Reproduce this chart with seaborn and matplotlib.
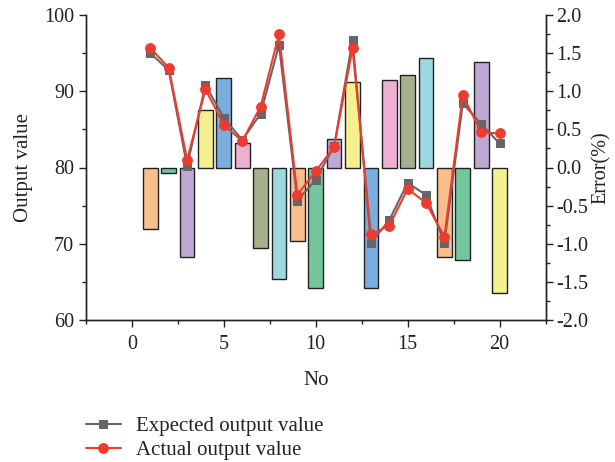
import numpy as np
import pandas as pd
import matplotlib
matplotlib.use("Agg")
import matplotlib.pyplot as plt
import seaborn as sns
from matplotlib.ticker import MultipleLocator

sns.set_theme(style="white")
plt.rcParams['font.family'] = ['Liberation Serif', 'DejaVu Serif']
plt.rcParams['mathtext.fontset'] = 'stix'

no = list(range(1, 21))
expected = [95.0, 92.76, 80.2, 90.83, 86.5, 83.6, 87.06, 96.05, 75.66, 78.4,
            82.8, 96.67, 70.13, 73.1, 77.98, 76.4, 70.13, 88.42, 85.7, 83.16]
actual = [95.66, 93.1, 81.0, 90.26, 85.6, 83.46, 88.0, 97.5, 76.45, 79.5,
          82.7, 95.66, 71.23, 72.37, 77.19, 75.35, 70.92, 89.47, 84.6, 84.47]
error = [-0.80, -0.07, -1.18, 0.76, 1.17, 0.32, -1.05, -1.46, -0.96, -1.58,
         0.37, 1.12, -1.58, 1.15, 1.21, 1.43, -1.17, -1.21, 1.38, -1.64]
palette8 = ['#F9BE8C', '#74C69D', '#BFA9D3', '#F5F191', '#7AAEDF', '#EDAFD2',
            '#A5B08F', '#9BD8E0']
bar_colors = [palette8[i % 8] for i in range(20)]

fig = plt.figure(figsize=(6.15, 4.62), dpi=100)
ax = fig.add_axes([86/615, 1 - 320/462, (545.5 - 86)/615, (320 - 15)/462])
ax2 = ax.twinx()

# bars on error axis
ax2.bar(no, error, width=0.8, color=bar_colors, edgecolor='#222222', linewidth=1.0, zorder=1)

# lines on output axis
ax.set_zorder(ax2.get_zorder() + 1)
ax.patch.set_visible(False)
df = pd.DataFrame({'No': no, 'Expected': expected, 'Actual': actual})
sns.lineplot(data=df, x='No', y='Expected', ax=ax, color='#666666', marker='s',
             markersize=6, markeredgecolor='#666666', linewidth=1.5,
             label='Expected output value', legend=False)
sns.lineplot(data=df, x='No', y='Actual', ax=ax, color='#EE3B30', marker='o',
             markersize=7, markeredgecolor='#EE3B30', linewidth=1.5,
             label='Actual output value', legend=False)

ax.set_xlim(-2.5, 22.5)
ax.set_ylim(60, 100)
ax2.set_ylim(-2.0, 2.0)
ax.xaxis.set_major_locator(MultipleLocator(5))
ax.xaxis.set_minor_locator(MultipleLocator(2.5))
ax.yaxis.set_major_locator(MultipleLocator(10))
ax.yaxis.set_minor_locator(MultipleLocator(5))
ax2.yaxis.set_major_locator(MultipleLocator(0.5))
ax2.yaxis.set_minor_locator(MultipleLocator(0.25))
ax2.yaxis.set_major_formatter(matplotlib.ticker.FuncFormatter(lambda v, p: f"{v:.1f}"))

for a in (ax, ax2):
    for s in a.spines.values():
        s.set_color('#222222')
        s.set_linewidth(1.0)
    a.spines['top'].set_visible(False)
    a.tick_params(which='both', direction='out', color='#222222', labelsize=14.5, colors='#222222')
    a.tick_params(which='major', length=5, width=1.0)
    a.tick_params(which='minor', length=3, width=1.0)
ax.tick_params(axis='x', which='both', bottom=True)
ax.tick_params(axis='x', which='major', pad=6)
ax.tick_params(axis='y', which='both', left=True)
ax2.tick_params(axis='y', which='both', right=True)
ax2.tick_params(axis='y', which='major', pad=3)
ax.grid(False)
ax2.grid(False)

ax.set_xlabel('No', fontsize=15, color='#222222', labelpad=12)
ax.set_ylabel('Output value', fontsize=15, color='#222222', labelpad=8)
ax2.set_ylabel('Error(%)', fontsize=14.5, color='#222222', labelpad=2)

handles, labels = ax.get_legend_handles_labels()
fig.legend(handles, labels, loc='upper left', bbox_to_anchor=(67/615, 1 - 398/462),
           frameon=False, fontsize=15, handlelength=1.7, handletextpad=0.7,
           labelspacing=0.22, labelcolor='#222222')

fig.savefig('out.png', dpi=100)
